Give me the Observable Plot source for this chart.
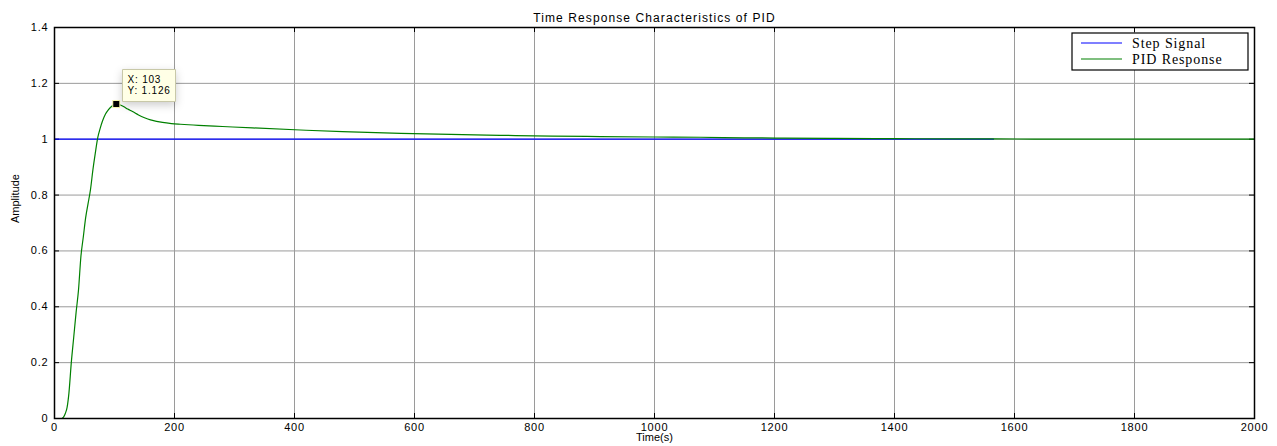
<!DOCTYPE html>
<html><head><meta charset="utf-8">
<script src="https://cdn.jsdelivr.net/npm/d3@7"></script>
<script src="https://cdn.jsdelivr.net/npm/@observablehq/plot@0.6"></script>
<style>
body{margin:0;background:#fff;}
#wrap{width:1277px;height:446px;}
g[aria-label="x-axis tick label"] text, g[aria-label="y-axis tick label"] text{letter-spacing:0.8px;}
g[aria-label="tip"] text{letter-spacing:0.8px;}
</style></head><body><div id="wrap"></div>
<script>
// ---- data ----
const responseTime = [0, 12, 15, 18, 21, 24, 28, 32, 36, 40, 44, 48, 52, 56, 60, 64, 68, 72, 76, 80, 85, 90, 95, 100, 103, 108, 115, 122, 130, 140, 150, 160, 170, 180, 195, 210, 240, 280, 330, 410, 480, 577, 660, 743, 830, 910, 1000, 1077, 1150, 1215, 1300, 1400, 1500, 1565, 1700, 1850, 2000];
const responseValue = [0, 0, 0.005, 0.018, 0.04, 0.09, 0.2, 0.29, 0.38, 0.46, 0.58, 0.65, 0.72, 0.77, 0.82, 0.89, 0.95, 1.005, 1.038, 1.065, 1.09, 1.106, 1.117, 1.124, 1.126, 1.124, 1.117, 1.108, 1.099, 1.087, 1.077, 1.069, 1.064, 1.060, 1.056, 1.0535, 1.0495, 1.0455, 1.0405, 1.033, 1.027, 1.021, 1.017, 1.014, 1.011, 1.0095, 1.008, 1.007, 1.005, 1.004, 1.003, 1.002, 1.001, 1.001, 1.0, 1.0, 1.0];
const stepTime = [0, 1565];
const stepValue = [1, 1];
const xTicks = [0, 200, 400, 600, 800, 1000, 1200, 1400, 1600, 1800, 2000];
const yTicks = [0, 0.2, 0.4, 0.6, 0.8, 1, 1.2, 1.4];
const seriesNames = ["Step Signal", "PID Response"];
const seriesColors = ["#0000ff", "#008000"];
const tipTime = [103];
const tipValue = [1.126];
const titleText = "Time Response Characteristics of PID";
const xLabel = "Time(s)";
const yLabel = "Amplitude";

// ---- build tables ----
const stepData = stepTime.map((t, i) => ({t, v: stepValue[i]}));
const respData = responseTime.map((t, i) => ({t, v: responseValue[i]}));
const tipData = tipTime.map((t, i) => ({t, v: tipValue[i], label: `X: ${t}\nY: ${tipValue[i]}`}));

const W = 1277, H = 446, mL = 54, mR = 23, mT = 27, mB = 28;
const innerW = W - mL - mR, innerH = H - mT - mB;

const svg = Plot.plot({
  width: W, height: H,
  marginLeft: mL, marginRight: mR, marginTop: mT, marginBottom: mB,
  x: {domain: [0, 2000], label: null},
  y: {domain: [0, 1.4], label: null},
  style: {fontFamily: "'Liberation Sans', Arial, sans-serif", fontSize: "11px", background: "#fff", color: "#000"},
  marks: [
    Plot.gridX(xTicks, {stroke: "#9a9a9a", strokeOpacity: 1}),
    Plot.gridY(yTicks, {stroke: "#9a9a9a", strokeOpacity: 1}),
    Plot.axisX(xTicks, {tickSize: 0, tickPadding: 5, tickFormat: d => String(d), fill: "#000"}),
    Plot.axisY(yTicks, {tickSize: 0, tickPadding: 6, tickFormat: d => String(d), fill: "#000"}),
    // inward tick marks on all four sides
    Plot.tickX(xTicks, {x: d => d, insetTop: innerH - 5, stroke: "#000"}),
    Plot.tickX(xTicks, {x: d => d, insetBottom: innerH - 5, stroke: "#000"}),
    Plot.tickY(yTicks, {y: d => d, insetRight: innerW - 5, stroke: "#000"}),
    Plot.tickY(yTicks, {y: d => d, insetLeft: innerW - 5, stroke: "#000"}),
    Plot.line(stepData, {x: "t", y: "v", stroke: seriesColors[0], strokeWidth: 1.2}),
    Plot.line(respData, {x: "t", y: "v", stroke: seriesColors[1], strokeWidth: 1.2, curve: "monotone-x"}),
    Plot.frame({stroke: "#000", strokeWidth: 1.5}),
    Plot.text([titleText], {frameAnchor: "top", dy: -6, lineAnchor: "bottom", fontSize: 12, fill: "#000"}),
    Plot.text([xLabel], {frameAnchor: "bottom", dy: 15, lineAnchor: "top", fontSize: 11, fill: "#000"}),
    Plot.text([yLabel], {frameAnchor: "left", dx: -39, rotate: -90, fontSize: 11, fill: "#000", fontFamily: "'Liberation Sans Narrow', 'Liberation Sans', sans-serif"}),
    Plot.dot(tipData, {x: "t", y: "v", symbol: "square", r: 4, fill: "#000", stroke: "#ffffb0", strokeWidth: 1}),
    Plot.tip(tipData, {x: "t", y: "v", title: "label", anchor: "bottom-left", pointerSize: 0, dx: 6, dy: -3,
      fill: "#ffffe6", stroke: "#c8c8a8", fontSize: 10, textPadding: 5, lineHeight: 1.1, fontFamily: "'Liberation Sans', Arial, sans-serif"})
  ]
});
document.getElementById("wrap").appendChild(svg);

// widen the title like the reference
d3.select(svg).selectAll("text").filter(function() { return this.textContent === titleText; })
  .attr("letter-spacing", "1.1px");

// ---- legend inside the axes, top-right ----
const lg = d3.select(svg).append("g").attr("transform", `translate(${W - mR - 182},${mT + 6})`);
lg.append("rect").attr("width", 176).attr("height", 37).attr("fill", "#fff").attr("stroke", "#000").attr("stroke-width", 1.2);
seriesNames.forEach((name, i) => {
  const y = 10 + i * 16;
  lg.append("line").attr("x1", 9).attr("x2", 50).attr("y1", y).attr("y2", y).attr("stroke", seriesColors[i]).attr("stroke-width", 1.2);
  lg.append("text").attr("x", 60).attr("y", y + 5).attr("text-anchor", "start").text(name)
    .attr("font-family", "'Liberation Serif', 'Times New Roman', serif").attr("font-size", 14).attr("letter-spacing", "0.9px").attr("fill", "#000");
});
</script></body></html>
